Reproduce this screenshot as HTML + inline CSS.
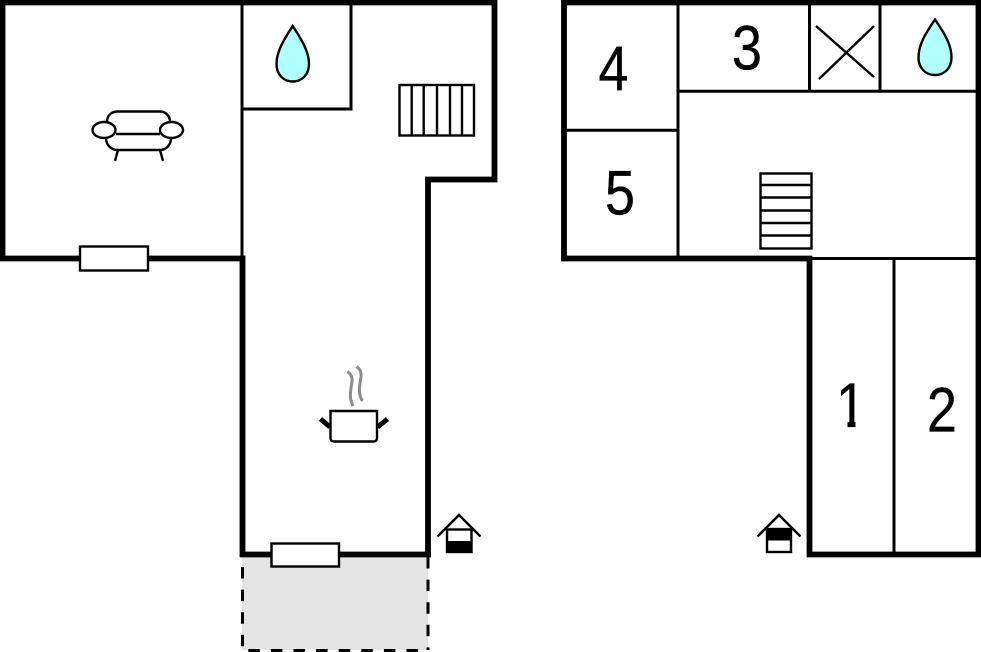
<!DOCTYPE html>
<html>
<head>
<meta charset="utf-8">
<style>
html,body{margin:0;padding:0;background:#fff;width:981px;height:652px;overflow:hidden}
svg{display:block}
text{font-family:"Liberation Sans",sans-serif;font-size:63px;fill:#000;stroke:#000;stroke-width:.3px;text-anchor:middle}
</style>
</head>
<body>
<svg width="981" height="652" viewBox="0 0 981 652" xmlns="http://www.w3.org/2000/svg">
<rect width="981" height="652" fill="#fff"/>

<!-- terrace -->
<rect x="242" y="556" width="186" height="94" fill="#e4e4e4"/>
<g fill="none" stroke="#000" stroke-width="3">
  <path d="M242.500 567V650" stroke-dasharray="11.500 11.100"/>
  <path d="M428 557V650" stroke-dasharray="11.500 11.100"/>
  <path d="M248.300 650.500H428" stroke-dasharray="11.500 11.100"/>
</g>

<!-- left plan walls -->
<g fill="none" stroke="#000">
  <path d="M2.500 258.500V2.500H494.500V179.500H428V557" stroke-width="5.800"/>
  <path d="M0 258.500H242.500V557" stroke-width="5.800"/>
  <path d="M240 554.500H431" stroke-width="5.800"/>
  <path d="M242 5V258" stroke-width="3"/>
  <path d="M242 109H351V5" stroke-width="3"/>
</g>
<rect x="80" y="246.500" width="68" height="24" fill="#fff" stroke="#000" stroke-width="2.400"/>
<rect x="271.500" y="543.500" width="67.500" height="23" fill="#fff" stroke="#000" stroke-width="2.400"/>

<!-- sofa -->
<g fill="none" stroke="#000" stroke-width="2.400">
  <path d="M107 122C107 115 112 111.500 118 111.500H160C166 111.500 170 116 170 122"/>
  <path d="M116 134H160"/>
  <path d="M106 138C106 145 111 150 118 150H160C166 150 171 145 171 138"/>
  <path d="M118 150L115 161M160 150L163 161"/>
  <ellipse cx="104" cy="130" rx="11.500" ry="8"/>
  <ellipse cx="171.500" cy="130" rx="11.500" ry="8"/>
</g>

<!-- drop 1 -->
<path d="M292.700 26C283 41 276.500 52 276.500 64C276.500 74 283 81.500 292.700 81.500C302.500 81.500 309 74 309 64C309 52 302.500 41 292.700 26Z" fill="#b2ffff" stroke="#000" stroke-width="2.400"/>

<!-- stairs 1 -->
<g fill="none" stroke="#000" stroke-width="2.400">
  <rect x="399.500" y="85" width="74.500" height="50.500"/>
  <path d="M411.700 85V135.500M423.700 85V135.500M437 85V135.500M450 85V135.500M462 85V135.500"/>
</g>

<!-- pot -->
<path d="M330.500 411H377V438Q377 441.500 373.500 441.500H334Q330.500 441.500 330.500 438Z" fill="#fff" stroke="#000" stroke-width="2.400"/>
<path d="M320.500 419L330 427M387.500 419L377.500 427" fill="none" stroke="#000" stroke-width="5"/>
<g fill="none" stroke="#8c8c8c" stroke-width="3">
  <path d="M347.500 371.500C354 376 352 382 351 388C350 395 350 400 353 406"/>
  <path d="M356.500 366.500C363 371 361 377 360 383C359 390 359 396 362.500 401"/>
</g>

<!-- house 1 -->
<g fill="none" stroke="#000" stroke-width="2.400">
  <path d="M437.500 536.500L459 515L480.500 536.500"/>
  <rect x="447" y="529.500" width="24.500" height="22.500" fill="#fff"/>
</g>
<rect x="446.500" y="541" width="25" height="12" fill="#000"/>

<!-- right plan walls -->
<g fill="none" stroke="#000">
  <path d="M809.500 557V258.500H564V2.500H978.500V554.500H807" stroke-width="5.800"/>
  <path d="M678 5V256M566 130.300H678M678 91.300H976M809.500 5V91M880 5V91M812 258.500H976M894 258V552" stroke-width="3"/>
  <path d="M816 26L874 77M874 26L819 79" stroke-width="2.400"/>
</g>

<!-- drop 2 -->
<path d="M935 19.500C925 34 918.500 45 918.500 57.500C918.500 67.500 925 75 935 75C945 75 951.500 67.500 951.500 57.500C951.500 45 945 34 935 19.500Z" fill="#b2ffff" stroke="#000" stroke-width="2.400"/>

<!-- stairs 2 -->
<g fill="none" stroke="#000" stroke-width="2.400">
  <rect x="760.500" y="173.500" width="51" height="75"/>
  <path d="M760.500 185H811.500M760.500 197.500H811.500M760.500 210.500H811.500M760.500 223H811.500M760.500 235.500H811.500"/>
</g>

<!-- house 2 -->
<g fill="none" stroke="#000" stroke-width="2.400">
  <path d="M757.500 536.500L779 515L800.500 536.500"/>
  <rect x="767" y="529" width="24" height="23" fill="#fff"/>
</g>
<rect x="766.500" y="528.500" width="25" height="12" fill="#000"/>

<!-- numbers -->
<text transform="translate(851,427) scale(.86,1)">1</text>
<rect x="832" y="420.500" width="15.500" height="9" fill="#fff"/>
<rect x="855.500" y="420.500" width="12" height="9" fill="#fff"/>
<text transform="translate(942,431.500) scale(.86,1)">2</text>
<text transform="translate(747,69.500) scale(.86,1)">3</text>
<text transform="translate(613.500,90.500) scale(.86,1)">4</text>
<text transform="translate(620,214.500) scale(.86,1)">5</text>
</svg>
</body>
</html>
